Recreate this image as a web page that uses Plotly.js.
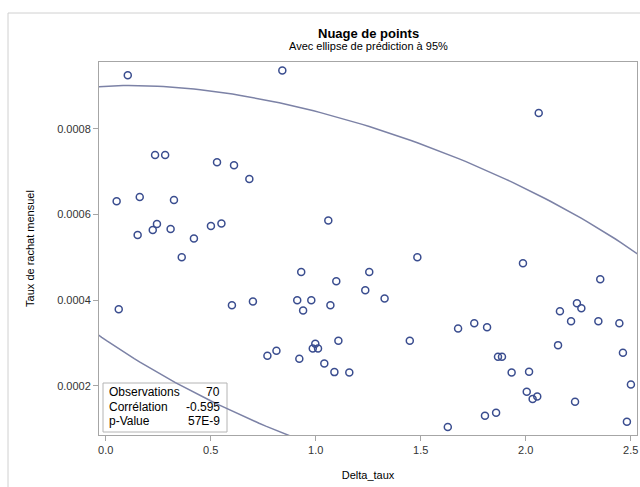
<!DOCTYPE html>
<html>
<head>
<meta charset="utf-8">
<script src="https://cdn.plot.ly/plotly-3.0.1.min.js"></script>
<style>
  html, body { margin: 0; padding: 0; background: #ffffff; }
  #chart { width: 640px; height: 487px; }
</style>
</head>
<body>
<div id="chart"></div>
<script>
// Delta_taux (x) and monthly buyback rate (y), one entry per observation
const deltaTaux = [
  0.105, 0.841, 0.235, 0.283, 0.530, 0.611, 0.684, 0.052, 0.162, 0.325,
  0.152, 0.224, 0.244, 0.309, 0.420, 0.501, 0.551, 0.362, 0.062, 0.601,
  0.701, 0.770, 0.813, 1.060, 1.484, 0.931, 1.255, 1.098, 1.236, 1.328,
  0.912, 0.979, 0.940, 1.070, 1.678, 1.755, 1.108, 1.448, 0.998, 0.986,
  1.011, 0.922, 1.041, 1.089, 1.160, 1.987, 2.355, 2.244, 2.265, 2.163,
  2.216, 2.346, 2.446, 1.816, 2.154, 2.463, 1.868, 1.887, 1.933, 2.016,
  2.501, 2.005, 2.033, 2.055, 2.235, 1.806, 1.859, 1.629, 2.482, 2.062
];
const tauxRachat = [
  0.000925, 0.000936, 0.000739, 0.000739, 0.000722, 0.000715, 0.000683, 0.000631, 0.000641, 0.000634,
  0.000552, 0.000564, 0.000578, 0.000566, 0.000544, 0.000573, 0.000579, 0.000500, 0.000379, 0.000388,
  0.000397, 0.000270, 0.000282, 0.000586, 0.000500, 0.000466, 0.000466, 0.000444, 0.000423, 0.000404,
  0.000400, 0.000400, 0.000376, 0.000388, 0.000334, 0.000346, 0.000305, 0.000305, 0.000298, 0.000287,
  0.000287, 0.000263, 0.000252, 0.000232, 0.000231, 0.000486, 0.000449, 0.000393, 0.000381, 0.000374,
  0.000351, 0.000351, 0.000346, 0.000337, 0.000295, 0.000277, 0.000268, 0.000268, 0.000231, 0.000233,
  0.000203, 0.000186, 0.000169, 0.000175, 0.000163, 0.000130, 0.000137, 0.000104, 0.000116, 0.000837
];

// Axis ticks
const xTicks = [0.0, 0.5, 1.0, 1.5, 2.0, 2.5];
const yTicks = [0.0002, 0.0004, 0.0006, 0.0008];

// Statistics inset
const statLabels = ['Observations', 'Corrélation', 'p-Value'];
const statValues = ['70', '-0.595', '57E-9'];

// 95% prediction ellipse from sample mean and covariance
function predictionEllipse(xs, ys, level) {
  const n = xs.length;
  const mx = xs.reduce((a, b) => a + b, 0) / n;
  const my = ys.reduce((a, b) => a + b, 0) / n;
  let sxx = 0, syy = 0, sxy = 0;
  for (let i = 0; i < n; i++) {
    const dx = xs[i] - mx, dy = ys[i] - my;
    sxx += dx * dx; syy += dy * dy; sxy += dx * dy;
  }
  sxx /= (n - 1); syy /= (n - 1); sxy /= (n - 1);
  const m = n - 2;
  const fq = (m / 2) * (Math.pow(1 - level, -2 / m) - 1);       // F(2, n-2) quantile
  const c = Math.sqrt(2 * (n - 1) * (n + 1) / (n * m) * fq);
  const l11 = Math.sqrt(sxx);
  const l21 = sxy / l11;
  const l22 = Math.sqrt(syy - l21 * l21);
  const ex = [], ey = [];
  const steps = 360;
  for (let k = 0; k <= steps; k++) {
    const t = 2 * Math.PI * k / steps;
    const u = Math.cos(t), v = Math.sin(t);
    ex.push(mx + c * l11 * u);
    ey.push(my + c * (l21 * u + l22 * v));
  }
  return { x: ex, y: ey };
}

const ell = predictionEllipse(deltaTaux, tauxRachat, 0.95);

const markerColor = '#3a4d8f';
const ellipseColor = '#7c82a6';
const frameColor = '#a6a6a6';
const font = 'Liberation Sans, Arial, sans-serif';

const traces = [
  {
    type: 'scatter', mode: 'lines',
    x: ell.x, y: ell.y,
    line: { color: ellipseColor, width: 1.5 },
    hoverinfo: 'skip', showlegend: false
  },
  {
    type: 'scatter', mode: 'markers',
    x: deltaTaux, y: tauxRachat,
    marker: { symbol: 'circle-open', size: 7, color: markerColor, line: { width: 1.5, color: markerColor } },
    showlegend: false
  }
];

const annotations = [
  { text: '<b>Nuage de points</b>', xref: 'paper', yref: 'paper', x: 0.5, y: 1.0, yshift: 29, yanchor: 'middle',
    showarrow: false, font: { family: font, size: 13, color: '#000' } },
  { text: 'Avec ellipse de prédiction à 95%', xref: 'paper', yref: 'paper', x: 0.5, y: 1.0, yshift: 16, yanchor: 'middle',
    showarrow: false, font: { family: font, size: 11, color: '#000' } }
];
// Inset rows
statLabels.forEach((lab, i) => {
  annotations.push({ text: lab, xref: 'paper', yref: 'paper', x: 0.0, xshift: 8, xanchor: 'left',
    y: 0.0, yshift: 43 - i * 14.5, yanchor: 'middle', showarrow: false,
    font: { family: font, size: 12, color: '#000' } });
  annotations.push({ text: statValues[i], xref: 'paper', yref: 'paper', x: 0.0, xshift: 123, xanchor: 'right',
    y: 0.0, yshift: 43 - i * 14.5, yanchor: 'middle', showarrow: false,
    font: { family: font, size: 12, color: '#000' } });
});

const W = 640, H = 487;
const ml = 99, mr = 3, mt = 62, mb = 52;
const pw = W - ml - mr, ph = H - mt - mb;
const px = v => (v - ml) / pw;          // pixel column -> paper x
const py = v => (H - mb - v) / ph;      // pixel row -> paper y

const shapes = [
  // outer frame of the graphic
  { type: 'rect', xref: 'paper', yref: 'paper', x0: px(8), x1: px(660), y0: py(500), y1: py(13),
    line: { color: '#d0d0d0', width: 1 }, fillcolor: 'rgba(0,0,0,0)', layer: 'below' },
  // statistics inset
  { type: 'rect', xref: 'paper', yref: 'paper', x0: px(103), x1: px(227), y0: py(432), y1: py(383),
    line: { color: '#b4b4b4', width: 1 }, fillcolor: '#ffffff', layer: 'below' }
];

const layout = {
  width: W, height: H,
  margin: { l: ml, r: mr, t: mt, b: mb, pad: 0 },
  paper_bgcolor: '#ffffff', plot_bgcolor: '#ffffff',
  font: { family: font, size: 11, color: '#000' },
  showlegend: false,
  xaxis: {
    range: [-0.032, 2.530],
    tickvals: xTicks, tickformat: '.1f',
    ticks: 'outside', ticklen: 5, tickcolor: frameColor, tickwidth: 1,
    showline: true, linecolor: frameColor, linewidth: 1, mirror: true,
    showgrid: false, zeroline: false,
    tickfont: { family: font, size: 11, color: '#333' },
    title: { text: 'Delta_taux', font: { family: font, size: 11, color: '#000' }, standoff: 16 }
  },
  yaxis: {
    range: [0.0000852, 0.000956],
    tickvals: yTicks, tickformat: '.4f',
    ticks: 'outside', ticklen: 5, tickcolor: frameColor, tickwidth: 1,
    showline: true, linecolor: frameColor, linewidth: 1, mirror: true,
    showgrid: false, zeroline: false,
    tickfont: { family: font, size: 11, color: '#333' },
    title: { text: 'Taux de rachat mensuel', font: { family: font, size: 11, color: '#000' }, standoff: 20 }
  },
  annotations: annotations,
  shapes: shapes
};

Plotly.newPlot('chart', traces, layout, { staticPlot: true, displayModeBar: false });
</script>
</body>
</html>
